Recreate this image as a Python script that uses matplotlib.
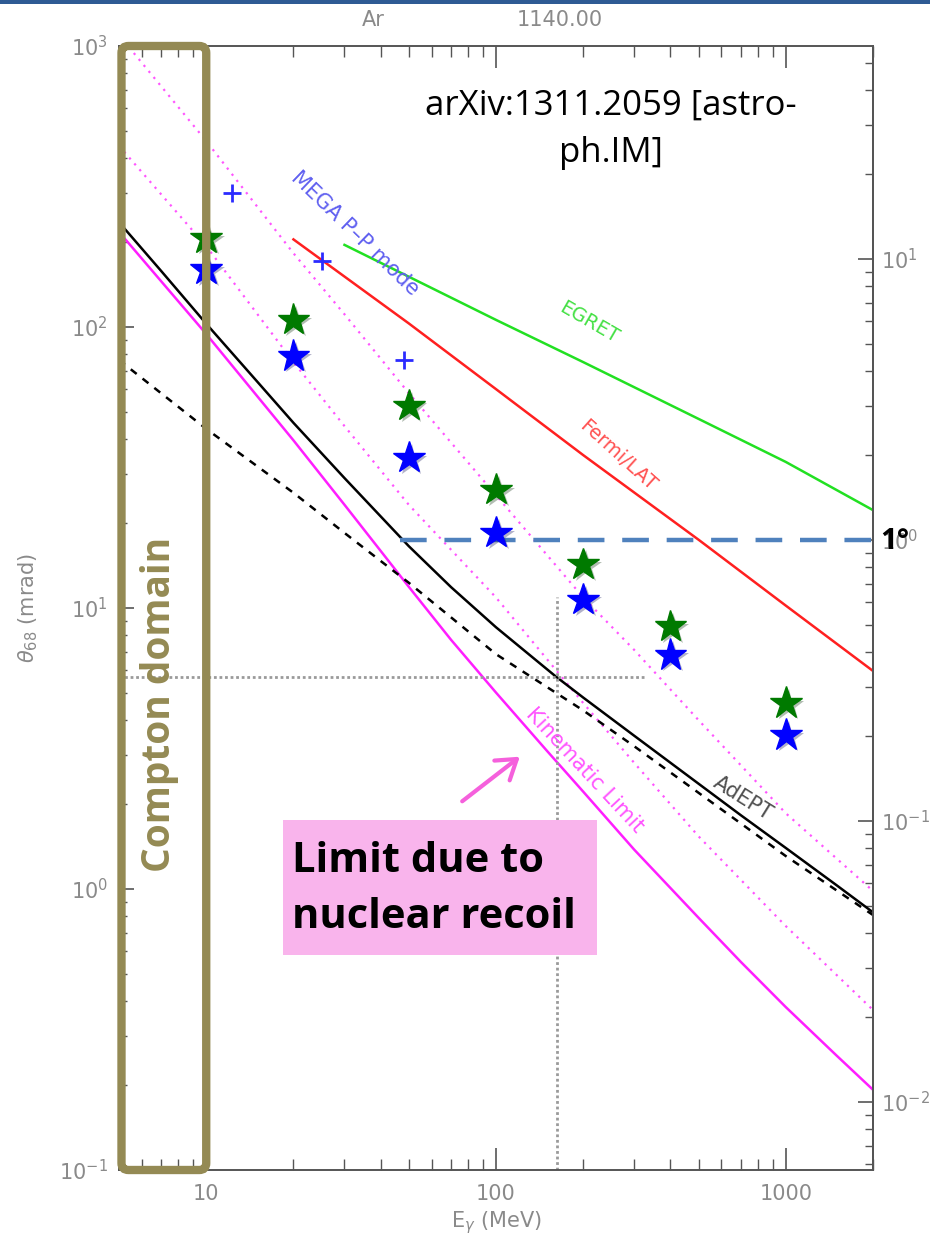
import numpy as np
import matplotlib
matplotlib.use("Agg")
import matplotlib.pyplot as plt
import matplotlib.patheffects as pe
from matplotlib.patches import FancyBboxPatch, Rectangle, FancyArrowPatch
from matplotlib.transforms import IdentityTransform

plt.rcParams['font.family'] = ['DejaVu Sans']
plt.rcParams['mathtext.fontset'] = 'dejavusans'

# photon energy grid (MeV) shared by the multiple-scattering curves
energy_grid = [5, 10, 20, 30, 50, 100, 200, 300, 500, 1000, 2000]

# 68% containment angle (mrad) on that grid
ms_upper = [1094, 459, 183, 111, 58.2, 25.2, 10.9, 7.09, 3.99, 1.86, 0.984]
ms_lower = [441, 194, 75, 44.4, 23.3, 10.9, 4.59, 2.81, 1.54, 0.738, 0.371]
adept_dashed = [76.3, 43.4, 25.7, 18.5, 12.3, 6.85, 4.32, 3.22, 2.20, 1.31, 0.808]

kin_energy = [5, 10, 20, 30, 50, 70, 100, 150, 200, 300, 500, 700, 1000, 1500, 2000]
kinematic_limit = [218, 94.4, 39.5, 23.3, 11.9, 7.7, 5.0, 3.1, 2.22, 1.38, 0.79,
                   0.55, 0.38, 0.255, 0.193]

adept_energy = [5, 7, 10, 15, 20, 30, 50, 70, 100, 160, 200, 300, 500, 700, 1000, 1500, 2000]
adept_theta = [236, 158, 102.7, 63.9, 45.6, 29.0, 16.6, 11.86, 8.54, 5.73, 4.80,
               3.51, 2.37, 1.83, 1.40, 1.03, 0.826]

fermi_energy = [20, 50, 100, 200, 500, 1000, 2000]
fermi_theta = [205, 103, 60.1, 35.0, 17.5, 10.2, 5.97]

egret_energy = [30, 50, 100, 200, 500, 1000, 2000]
egret_theta = [196, 151, 106, 75, 47.1, 33.1, 22.3]

mega_energy = [12.3, 25.1, 48.1]
mega_theta = [300, 172, 76.3]

star_energy = [10, 20, 50, 100, 200, 400, 1000]
star_green = [207, 106, 52.4, 26.3, 14.3, 8.6, 4.59]
star_blue = [160, 78.8, 34.2, 18.5, 10.7, 6.8, 3.53]

# AdEPT reference point with its dotted cross-hair
ref_energy = 162
ref_theta = 5.7
ref_hline_end = 326
ref_vline_top = 10.9

one_degree_mrad = 1000 * np.pi / 180
one_degree_start = 46.5
compton_range = [5.1, 10]

x_ticks = [10, 100, 1000]
x_tick_labels = ['10', '100', '1000']

W, H = 930, 1240
AX_COL = '#555555'
LBL_COL = '#8a8a8a'
SLIDE_FONT = ['Open Sans', 'DejaVu Sans']

fig = plt.figure(figsize=(W / 100, H / 100), dpi=100)
ax = fig.add_axes([119 / W, 1 - 1170 / H, 754 / W, 1124 / H])
ax.set_xscale('log')
ax.set_yscale('log')
ax.set_xlim(5, 2000)
ax.set_ylim(0.1, 1000)

# curves
ax.plot(energy_grid, ms_upper, color='#ff55ff', lw=1.6, ls=(0, (1, 2.5)))
ax.plot(energy_grid, ms_lower, color='#ff55ff', lw=1.6, ls=(0, (1, 2.5)))
ax.plot(kin_energy, kinematic_limit, color='#ff1eff', lw=1.8)
ax.plot(adept_energy, adept_theta, color='black', lw=1.8)
ax.plot(energy_grid, adept_dashed, color='black', lw=1.8, ls=(0, (3, 3)))
ax.plot(fermi_energy, fermi_theta, color='#ff2020', lw=1.8)
ax.plot(egret_energy, egret_theta, color='#22e022', lw=1.8)

# dotted cross-hair
ax.plot([5, ref_hline_end], [ref_theta, ref_theta], color='#9a9a9a', lw=2, ls=(0, (1, 1)))
ax.plot([ref_energy, ref_energy], [0.1, ref_vline_top], color='#9a9a9a', lw=2, ls=(0, (1, 1)))

# 1 degree line
ax.plot([one_degree_start, 2000], [one_degree_mrad, one_degree_mrad],
        color='#4f81bd', lw=3.2, ls=(0, (6, 4)), clip_on=False)

ax.plot(mega_energy, mega_theta, ls='none', marker='+', ms=13, mew=2, color='#2b2bff')

shadow = [pe.SimplePatchShadow(offset=(2, -2), alpha=0.3), pe.Normal()]
ax.plot(star_energy, star_green, ls='none', marker='*', ms=24, color='#007a00',
        path_effects=shadow, zorder=5)
ax.plot(star_energy, star_blue, ls='none', marker='*', ms=24, color='#0000ff',
        path_effects=shadow, zorder=5)

# curve labels
ax.text(32.6, 216, 'MEGA P\u2013P mode', rotation=-44, rotation_mode='anchor',
        ha='center', va='center', color='#6060f0', fontsize=15)
ax.text(210, 104, 'EGRET', rotation=-30, rotation_mode='anchor',
        ha='center', va='center', color='#44e044', fontsize=14)
ax.text(263, 35, 'Fermi/LAT', rotation=-42, rotation_mode='anchor',
        ha='center', va='center', color='#ff5050', fontsize=14)
ax.text(709, 2.11, 'AdEPT', rotation=-32, rotation_mode='anchor',
        ha='center', va='center', color='#505050', fontsize=15)
ax.text(202, 2.65, 'Kinematic Limit', rotation=-47, rotation_mode='anchor',
        ha='center', va='center', color='#ff55ff', fontsize=15)

# axes styling
for side in ['left', 'right', 'top', 'bottom']:
    ax.spines[side].set_color(AX_COL)
    ax.spines[side].set_linewidth(1.4)
ax.set_xticks(x_ticks, x_tick_labels)
ax.tick_params(which='both', direction='in', top=True, right=False,
               color=AX_COL, labelcolor=LBL_COL, labelsize=15)
ax.tick_params(axis='x', which='major', length=16, width=1.2, pad=10)
ax.tick_params(axis='x', which='minor', length=8, width=1.0)
ax.tick_params(axis='y', which='major', length=11, width=1.2, pad=8)
ax.tick_params(axis='y', which='minor', length=6, width=1.0)
ax.set_xlabel(r'E$_\gamma$ (MeV)', color=LBL_COL, fontsize=15, labelpad=4)
ax.set_ylabel(r'$\theta_{68}$ (mrad)', color=LBL_COL, fontsize=15, labelpad=14)

sec = ax.secondary_yaxis('right', functions=(lambda m: m / one_degree_mrad,
                                             lambda d: d * one_degree_mrad))
sec.spines['right'].set_color(AX_COL)
sec.spines['right'].set_linewidth(1.4)
sec.tick_params(which='both', direction='in', color=AX_COL,
                labelcolor=LBL_COL, labelsize=15)
sec.tick_params(which='major', length=11, width=1.2, pad=6)
sec.tick_params(which='minor', length=6, width=1.0)

fig.text(373 / W, 1 - 20 / H, 'Ar', color=LBL_COL, fontsize=15, ha='center', va='center')
fig.text(560 / W, 1 - 20 / H, '1140.00', color=LBL_COL, fontsize=15, ha='center', va='center')

# Compton domain frame, drawn in pixel units so the corners stay round
fig.canvas.draw()
x0, y0 = ax.transData.transform((compton_range[0], 0.1))
x1, y1 = ax.transData.transform((compton_range[1], 1000))
frame = FancyBboxPatch((x0, y0), x1 - x0, y1 - y0,
                       boxstyle='round,pad=0,rounding_size=7',
                       transform=IdentityTransform(), fill=False,
                       edgecolor='#948a54', lw=6, clip_on=False, zorder=6)
fig.add_artist(frame)
ax.text(0.054, 0.414, 'Compton domain', transform=ax.transAxes, rotation=90,
        ha='center', va='center', color='#948a54', fontsize=28,
        fontweight='bold', family=SLIDE_FONT)

ax.text(0.652, 0.926, 'arXiv:1311.2059 [astro-\nph.IM]', transform=ax.transAxes,
        ha='center', va='center', multialignment='center', fontsize=25,
        linespacing=1.5, family=SLIDE_FONT, color='black')

# nuclear recoil callout
fig.add_artist(Rectangle((283 / W, 1 - 955 / H), 314 / W, 135 / H,
                         transform=fig.transFigure, facecolor='#f9b4ec',
                         edgecolor='none'))
fig.text(292 / W, 1 - 862 / H, 'Limit due to', fontsize=30, fontweight='bold',
         ha='left', va='center', family=SLIDE_FONT)
fig.text(292 / W, 1 - 918 / H, 'nuclear recoil', fontsize=30, fontweight='bold',
         ha='left', va='center', family=SLIDE_FONT)
fig.add_artist(FancyArrowPatch((460 / W, 1 - 803 / H), (522 / W, 1 - 755 / H),
                               transform=fig.transFigure,
                               arrowstyle='->,head_length=0.45,head_width=0.3',
                               mutation_scale=30, color='#f560dc', lw=3))

fig.text(880 / W, 1 - 542 / H, '1\u00b0', fontsize=21, fontweight='bold',
         ha='left', va='center', family=SLIDE_FONT)

# slide header strip
fig.add_artist(Rectangle((0, 1 - 4 / H), 1, 4 / H, transform=fig.transFigure,
                         facecolor='#2e5b94', edgecolor='none'))

fig.savefig('out.png', dpi=100)
